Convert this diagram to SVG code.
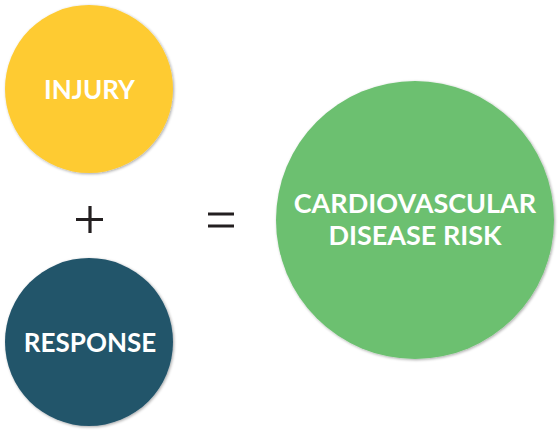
<svg xmlns="http://www.w3.org/2000/svg" width="558" height="432" viewBox="0 0 558 432">
<style>
.lbl{font-family:Lato,"Open Sans","Liberation Sans",sans-serif;font-weight:700;fill:#ffffff;text-anchor:middle}
.op{stroke:#231f20;stroke-width:3.2;fill:none}
</style>
<defs>
<filter id="sh" x="-10%" y="-10%" width="120%" height="120%">
<feGaussianBlur in="SourceAlpha" stdDeviation="1.8"/>
<feOffset dx="1" dy="1" result="b"/>
<feComponentTransfer><feFuncA type="linear" slope="0.35"/></feComponentTransfer>
<feMerge><feMergeNode/><feMergeNode in="SourceGraphic"/></feMerge>
</filter>
</defs>
<rect width="558" height="432" fill="#ffffff"/>
<g id="injury">
<circle cx="89" cy="89" r="84" fill="#fecb32" filter="url(#sh)"/>
<text class="lbl" x="89.5" y="99" font-size="26">INJURY</text>
</g>
<g id="response">
<circle cx="89" cy="342" r="84" fill="#22546b" filter="url(#sh)"/>
<text class="lbl" x="90" y="352" font-size="26">RESPONSE</text>
</g>
<g id="cvd">
<circle cx="415" cy="220" r="139" fill="#6cc070" filter="url(#sh)"/>
<text class="lbl" x="415" y="213" font-size="27">CARDIOVASCULAR</text>
<text class="lbl" x="415" y="245" font-size="27">DISEASE RISK</text>
</g>
<g id="connectors">
<path class="op" d="M76 219.5H103M90 206V233"/>
<path class="op" d="M208 214H234M208 226H234"/>
</g>
</svg>
